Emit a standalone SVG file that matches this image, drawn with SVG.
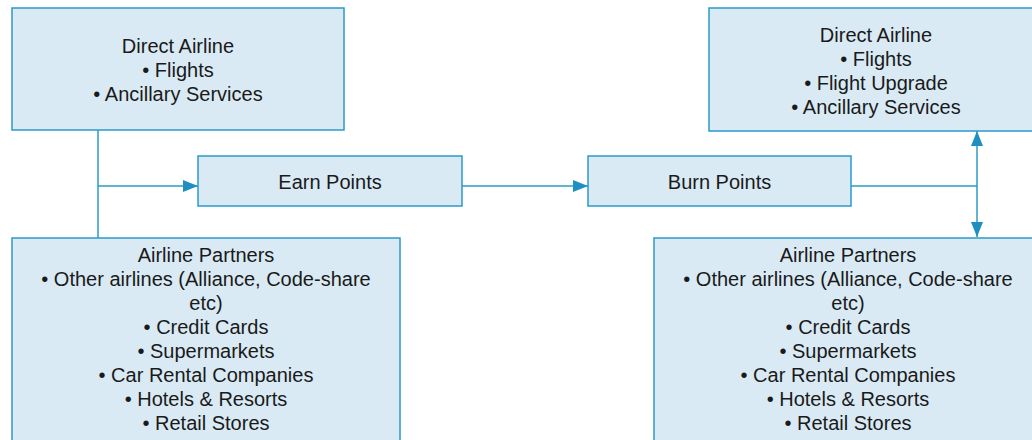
<svg xmlns="http://www.w3.org/2000/svg" width="1032" height="440" viewBox="0 0 1032 440">
  <style>
    .box { fill: #d9eaf5; stroke: #2b9bc9; stroke-width: 1.5; }
    .lbl { font-family: "Liberation Sans", Arial, sans-serif; font-size: 20px; fill: #1a1a1a; text-anchor: middle; }
    .wire { fill: none; stroke: #2b9bc9; stroke-width: 1.5; }
  </style>
  <defs>
    <marker id="tip" viewBox="0 0 15 12" refX="15" refY="6" markerWidth="15" markerHeight="12" markerUnits="userSpaceOnUse" orient="auto-start-reverse">
      <path d="M0,0 L15,6 L0,12 Z" fill="#1f8fc0"/>
    </marker>
  </defs>

  <g id="connectors">
    <path class="wire" d="M98,130 V238"/>
    <path class="wire" d="M98,186 H198" marker-end="url(#tip)"/>
    <path class="wire" d="M462,186 H588" marker-end="url(#tip)"/>
    <path class="wire" d="M851,186 H977"/>
    <path class="wire" d="M977,131 V237" marker-start="url(#tip)" marker-end="url(#tip)"/>
  </g>

  <g id="direct-airline-earn">
    <rect class="box" x="12" y="8" width="332" height="122"/>
    <text class="lbl" x="178" y="53">Direct Airline</text>
    <text class="lbl" x="178" y="77">• Flights</text>
    <text class="lbl" x="178" y="101">• Ancillary Services</text>
  </g>

  <g id="earn-points">
    <rect class="box" x="198" y="156" width="264" height="50"/>
    <text class="lbl" x="330" y="189">Earn Points</text>
  </g>

  <g id="burn-points">
    <rect class="box" x="588" y="156" width="263" height="50"/>
    <text class="lbl" x="719.5" y="189">Burn Points</text>
  </g>

  <g id="partners-earn">
    <rect class="box" x="12" y="238" width="388" height="215"/>
    <text class="lbl" x="206" y="262">Airline Partners</text>
    <text class="lbl" x="206" y="286">• Other airlines (Alliance, Code-share</text>
    <text class="lbl" x="206" y="310">etc)</text>
    <text class="lbl" x="206" y="334">• Credit Cards</text>
    <text class="lbl" x="206" y="358">• Supermarkets</text>
    <text class="lbl" x="206" y="382">• Car Rental Companies</text>
    <text class="lbl" x="206" y="406">• Hotels &amp; Resorts</text>
    <text class="lbl" x="206" y="430">• Retail Stores</text>
  </g>

  <g id="direct-airline-burn">
    <rect class="box" x="709" y="8" width="334" height="123"/>
    <text class="lbl" x="876" y="42">Direct Airline</text>
    <text class="lbl" x="876" y="66">• Flights</text>
    <text class="lbl" x="876" y="90">• Flight Upgrade</text>
    <text class="lbl" x="876" y="114">• Ancillary Services</text>
  </g>

  <g id="partners-burn">
    <rect class="box" x="654" y="238" width="388" height="215"/>
    <text class="lbl" x="848" y="262">Airline Partners</text>
    <text class="lbl" x="848" y="286">• Other airlines (Alliance, Code-share</text>
    <text class="lbl" x="848" y="310">etc)</text>
    <text class="lbl" x="848" y="334">• Credit Cards</text>
    <text class="lbl" x="848" y="358">• Supermarkets</text>
    <text class="lbl" x="848" y="382">• Car Rental Companies</text>
    <text class="lbl" x="848" y="406">• Hotels &amp; Resorts</text>
    <text class="lbl" x="848" y="430">• Retail Stores</text>
  </g>
</svg>
